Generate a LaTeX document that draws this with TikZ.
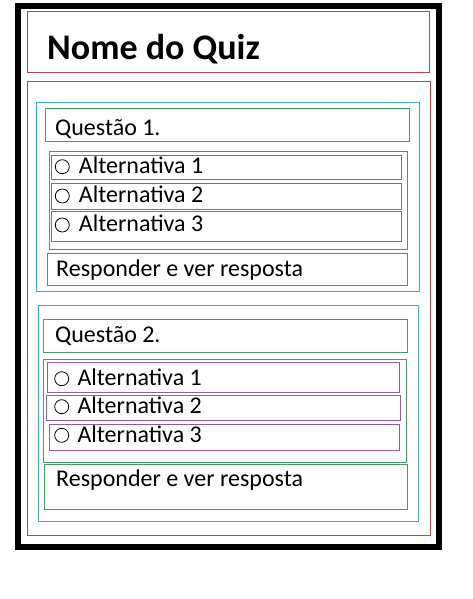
\documentclass[tikz,border=0pt]{standalone}
\usepackage{fontspec}
\setmainfont{Carlito}
\definecolor{qred}{HTML}{B5474A}
\definecolor{qcyan}{HTML}{3FA9C9}
\definecolor{qgreen}{HTML}{4A9A65}
\definecolor{qpurple}{HTML}{8E5EA0}
\begin{document}
\begin{tikzpicture}[x=1pt,y=-1pt,
  frame/.style={draw=black,line width=6pt},
  redbox/.style={draw=qred,line width=1pt},
  cyanbox/.style={draw=qcyan,line width=1pt},
  greenbox/.style={draw=qgreen,line width=1pt},
  purplebox/.style={draw=qpurple,line width=1pt},
  titletext/.style={anchor=base west,inner sep=0pt,font=\fontsize{36}{40}\selectfont\bfseries},
  lbl/.style={anchor=base west,inner sep=0pt,font=\fontsize{24}{28}\selectfont},
  radio/.style={draw=black,circle,minimum size=14pt,inner sep=0pt,line width=0.8pt}]
\useasboundingbox (0,0) rectangle (473,599);
\fill[white] (0,0) rectangle (473,599);
% outer frame
\draw[frame] (17.5,6.5) rectangle (438.5,547);
% title
\draw[redbox] (27,12) rectangle (429,73);
\node[titletext] (title) at (47,60) {Nome do Quiz};
% body
\draw[redbox] (27,82) rectangle (430,535);
% question 1
\draw[cyanbox] (36,103) rectangle (419,291);
\draw[greenbox] (45,109) rectangle (409,141);
\node[lbl] (q1) at (55,135.7) {Questão 1.};
\draw[greenbox] (49,151) rectangle (407,249);
\draw[purplebox] (51,155) rectangle (401,179);
\draw[purplebox] (51,183) rectangle (401,209);
\draw[purplebox] (51,211) rectangle (401,241);
\node[radio] (r11) at (62.3,166.7) {};
\node[radio] (r12) at (62.3,196) {};
\node[radio] (r13) at (62.3,225) {};
\node[lbl] (a11) at (78.7,173.3) {Alternativa 1};
\node[lbl] (a12) at (78.7,202) {Alternativa 2};
\node[lbl] (a13) at (78.7,231.3) {Alternativa 3};
\draw[greenbox] (47,253) rectangle (407,285);
\node[lbl] (resp1) at (56,276) {Responder e ver resposta};
% question 2
\draw[cyanbox] (38,305) rectangle (418,521);
\draw[greenbox] (43,319) rectangle (407,352);
\node[lbl] (q2) at (55,342.7) {Questão 2.};
\draw[greenbox] (43,359) rectangle (406,462);
\draw[purplebox] (47,362) rectangle (399,392);
\draw[purplebox] (46,395) rectangle (400,420);
\draw[purplebox] (49,424) rectangle (399,450);
\node[radio] (r21) at (61.7,378.7) {};
\node[radio] (r22) at (61.7,406.7) {};
\node[radio] (r23) at (61.7,435.3) {};
\node[lbl] (a21) at (77.3,385) {Alternativa 1};
\node[lbl] (a22) at (77.3,413.3) {Alternativa 2};
\node[lbl] (a23) at (77.3,442.3) {Alternativa 3};
\draw[greenbox] (44,464) rectangle (407,509);
\node[lbl] (resp2) at (56,486.7) {Responder e ver resposta};
\end{tikzpicture}
\end{document}
